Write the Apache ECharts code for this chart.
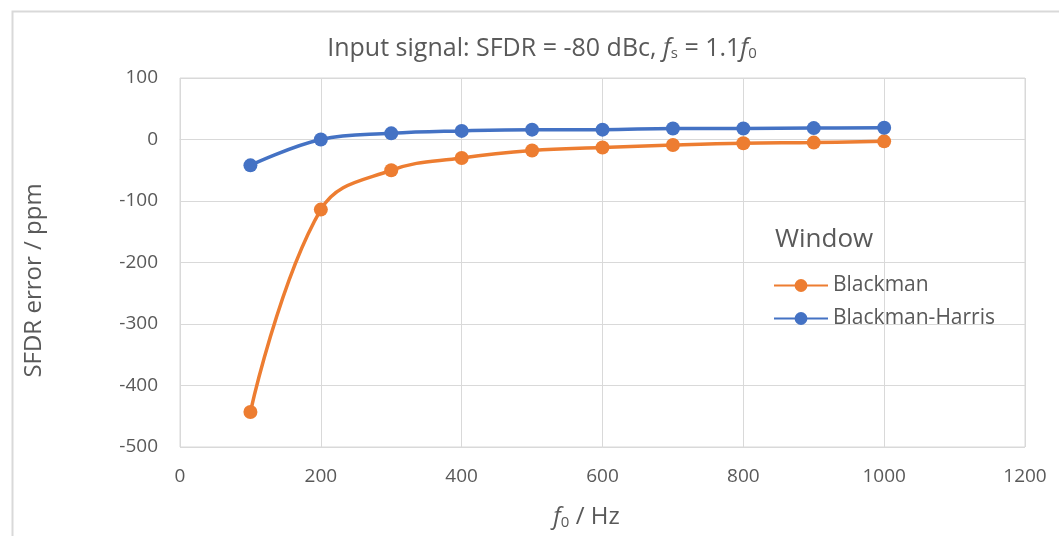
<!DOCTYPE html>
<html>
<head>
<meta charset="utf-8">
<script src="https://cdn.jsdelivr.net/npm/echarts@6/dist/echarts.min.js"></script>
<style>
  html, body { margin: 0; padding: 0; background: #fff; }
  #main { width: 1059px; height: 536px; }
</style>
</head>
<body>
<div id="main"></div>
<script>
var myChart = echarts.init(document.getElementById("main"));

// data
const freqs = [100, 200, 300, 400, 500, 600, 700, 800, 900, 1000];
const blackman = [-443, -114, -50, -30, -18, -13, -9, -6, -5, -3];
const blackmanHarris = [-42, 0, 10, 14, 16, 16, 18, 18, 18.5, 19];

const textColor = "#595959";
const fontFamily = "'Open Sans', Lato, sans-serif";

function pairs(ys) {
  return freqs.map(function (x, i) { return [x, ys[i]]; });
}

const option = {
  backgroundColor: "#fff",
  textStyle: { fontFamily: fontFamily },
  title: {
    text: "{n|Input signal: SFDR = -80 dBc, }{i|f}{s|s}{n| = 1.1}{i|f}{s|0}",
    left: 537,
    textAlign: "center",
    top: 31,
    textStyle: {
      fontWeight: "normal",
      rich: {
        n: { fontSize: 25, color: textColor, fontFamily: fontFamily, fontWeight: "normal" },
        i: { fontSize: 25, color: textColor, fontStyle: "italic", fontFamily: fontFamily, fontWeight: "normal" },
        s: { fontSize: 15, color: textColor, fontFamily: fontFamily, fontWeight: "normal", verticalAlign: "bottom", padding: [10, 0, 0, 0] }
      }
    }
  },
  graphic: [
    {
      type: "rect",
      left: 10, top: 9,
      shape: { width: 1100, height: 600 },
      style: { fill: "none", stroke: "#D9D9D9", lineWidth: 2 },
      silent: true
    },
    {
      type: "text",
      left: 775, top: 227,
      style: { text: "Window", fontSize: 26, fill: textColor, fontFamily: fontFamily },
      silent: true
    }
  ],
  legend: {
    orient: "vertical",
    left: 768,
    top: 270,
    itemWidth: 54,
    itemHeight: 16,
    itemGap: 12,
    textStyle: { fontSize: 21, color: textColor, fontFamily: fontFamily },
    data: ["Blackman", "Blackman-Harris"]
  },
  grid: {
    left: 180, top: 78, right: 34, bottom: 89,
    outerBoundsMode: "none",
    show: true,
    borderColor: "#D9D9D9",
    borderWidth: 1
  },
  xAxis: {
    type: "value",
    min: 0, max: 1200, interval: 200,
    name: "{i|f}{s|0}{n| / Hz}",
    nameLocation: "middle",
    nameGap: 58,
    nameTextStyle: {
      padding: [0, 32, 0, 0],
      rich: {
        n: { fontSize: 24, color: textColor, fontFamily: fontFamily },
        i: { fontSize: 24, color: textColor, fontStyle: "italic", fontFamily: fontFamily },
        s: { fontSize: 15, color: textColor, fontFamily: fontFamily, verticalAlign: "bottom", padding: [10, 0, 0, 0] }
      }
    },
    axisLine: { lineStyle: { color: "#D9D9D9" } },
    axisTick: { show: false },
    axisLabel: {
      color: textColor, fontSize: 19, margin: 20,
      formatter: function (v) { return String(v); }
    },
    splitLine: { lineStyle: { color: "#D9D9D9" } }
  },
  yAxis: {
    type: "value",
    min: -500, max: 100, interval: 100,
    name: "SFDR error / ppm",
    nameLocation: "middle",
    nameGap: 134,
    nameTextStyle: { fontSize: 24, color: textColor, padding: [0, 36, 0, 0] },
    axisLine: { show: false },
    axisTick: { show: false },
    axisLabel: {
      color: textColor, fontSize: 19, margin: 22,
      formatter: function (v) { return String(v); }
    },
    splitLine: { lineStyle: { color: "#D9D9D9" } }
  },
  series: [
    {
      name: "Blackman",
      type: "line",
      smooth: 0.4,
      data: pairs(blackman),
      symbol: "circle",
      symbolSize: 14,
      lineStyle: { width: 3.5, color: "#ED7D31" },
      itemStyle: { color: "#ED7D31" }
    },
    {
      name: "Blackman-Harris",
      type: "line",
      smooth: 0.4,
      data: pairs(blackmanHarris),
      symbol: "circle",
      symbolSize: 14,
      lineStyle: { width: 3.5, color: "#4472C4" },
      itemStyle: { color: "#4472C4" }
    }
  ]
};

myChart.setOption(option);
</script>
</body>
</html>
